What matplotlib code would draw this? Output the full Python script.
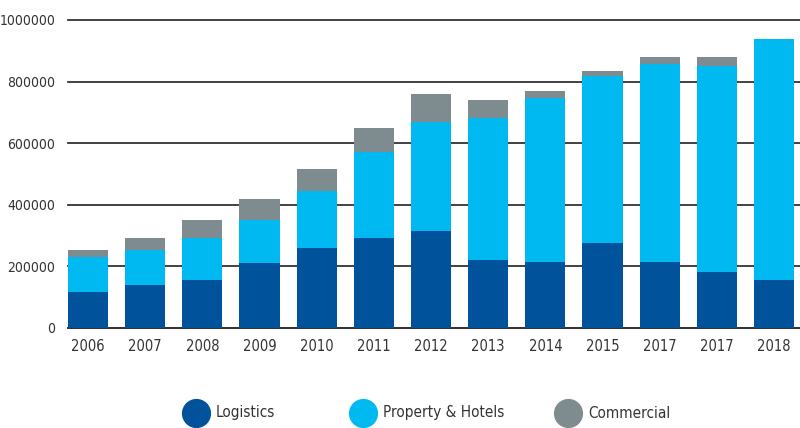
import matplotlib
matplotlib.use("Agg")
import matplotlib.pyplot as plt
from matplotlib.lines import Line2D
import numpy as np

years = ["2006", "2007", "2008", "2009", "2010", "2011", "2012",
         "2013", "2014", "2015", "2017", "2017", "2018"]
logistics = [116000, 139000, 155000, 210000, 259000, 291000, 314000,
             220000, 213000, 275000, 213000, 181000, 155000]
property_hotels = [114000, 115000, 138000, 141000, 185000, 280000, 354000,
                   463000, 534000, 544000, 645000, 670000, 783000]
commercial = [22000, 38000, 57000, 67000, 72000, 78000, 91000,
              57000, 22000, 15000, 22000, 28000, 0]

series = ["Logistics", "Property & Hotels", "Commercial"]
colors = ["#00529b", "#00b9f0", "#7f8c8f"]
txt = "#333333"

plt.rcParams["font.family"] = ["DejaVu Sans"]
plt.rcParams["font.stretch"] = "condensed"

fig = plt.figure(figsize=(8, 4.28), dpi=100)
ax = fig.add_axes([0.085, 0.2343, 0.915, 0.719])

x = np.arange(len(years))
w = 0.70
b1 = np.array(logistics)
b2 = b1 + np.array(property_hotels)
ax.bar(x, logistics, w, color=colors[0], zorder=3)
ax.bar(x, property_hotels, w, bottom=b1, color=colors[1], zorder=3)
ax.bar(x, commercial, w, bottom=b2, color=colors[2], zorder=3)

ax.set_ylim(0, 1000000)
ax.set_xlim(-0.35, 12.455)
ax.set_yticks(np.arange(0, 1000001, 200000))
ax.set_yticklabels([str(v) for v in range(0, 1000001, 200000)])
ax.set_xticks(x)
ax.set_xticklabels(years)
ax.grid(axis="y", color="#333333", linewidth=1.3, zorder=0)
for gl in ax.get_ygridlines():
    gl.set_clip_on(False)
ax.tick_params(length=0, labelsize=10.5, colors=txt, pad=8)
ax.tick_params(axis="y", labelsize=10, pad=9)
for s in ["top", "right", "left"]:
    ax.spines[s].set_visible(False)
ax.spines["bottom"].set_color("#333333")
ax.spines["bottom"].set_linewidth(1.3)

# legend laid out by hand to match the spacing of the original
mx = [196, 363, 568]
for name, c, px in zip(series, colors, mx):
    fig.add_artist(Line2D([px / 800], [1 - 413 / 428], marker="o", markersize=20,
                          color=c, linestyle="", transform=fig.transFigure))
    fig.text((px + 20) / 800, 1 - 413 / 428, name, fontsize=11, color=txt,
             ha="left", va="center")

fig.savefig("out.png", dpi=100)
